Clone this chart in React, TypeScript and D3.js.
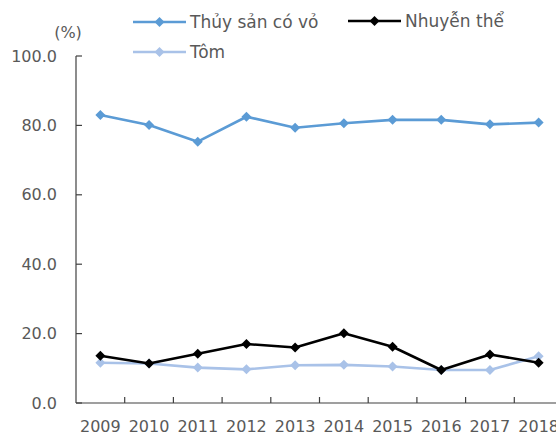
import React from "react";
import * as d3 from "d3";

const years = ["2009", "2010", "2011", "2012", "2013", "2014", "2015", "2016", "2017", "2018"];
const thuySan = [83.0, 80.1, 75.3, 82.5, 79.3, 80.6, 81.6, 81.6, 80.3, 80.8];
const nhuyenThe = [13.6, 11.4, 14.2, 17.0, 16.0, 20.1, 16.2, 9.5, 14.0, 11.6];
const tom = [11.6, 11.4, 10.2, 9.7, 10.9, 11.0, 10.5, 9.5, 9.5, 13.5];
const yTicks = [0, 20, 40, 60, 80, 100];

const series = [
  { name: "Thủy sản có vỏ", values: thuySan, color: "#5B9BD5" },
  { name: "Nhuyễn thể", values: nhuyenThe, color: "#000000" },
  { name: "Tôm", values: tom, color: "#A9C2E8" },
];
const drawOrder = [0, 2, 1];

const W = 556;
const H = 434;
const left = 76;
const right = 563;
const top = 56;
const bottom = 403;
const font = "'DejaVu Sans', Verdana, sans-serif";
const textColor = "#595959";

export default function App() {
  const x = d3.scaleBand<string>().domain(years).range([left, right]);
  const y = d3.scaleLinear().domain([0, 100]).range([bottom, top]);
  const line = d3
    .line<number>()
    .x((_, i) => (x(years[i]) as number) + x.bandwidth() / 2)
    .y((v) => y(v));
  const diamond = (cx: number, cy: number, r: number) =>
    `M${cx},${cy - r}L${cx + r},${cy}L${cx},${cy + r}L${cx - r},${cy}Z`;

  const legend = [
    { s: series[0], lx: 133, ly: 22 },
    { s: series[1], lx: 348, ly: 21 },
    { s: series[2], lx: 133, ly: 52 },
  ];

  return (
    <svg
      width={W}
      height={H}
      style={{ position: "fixed", left: 0, top: 0, background: "#fff" }}
      fontFamily={font}
    >
      <rect width={W} height={H} fill="#fff" />
      {/* y axis */}
      <line x1={left} x2={left} y1={top} y2={bottom} stroke="#404040" strokeWidth={1.2} />
      {yTicks.map((t) => (
        <g key={t}>
          <line x1={left} x2={left + 6} y1={y(t)} y2={y(t)} stroke="#404040" strokeWidth={1.2} />
          <text
            x={57}
            y={y(t)}
            textAnchor="end"
            dominantBaseline="central"
            fontSize={16}
            fill={textColor}
          >
            {t.toFixed(1)}
          </text>
        </g>
      ))}
      <text x={68} y={32} textAnchor="middle" dominantBaseline="central" fontSize={16} fill={textColor}>
        (%)
      </text>
      {/* x axis */}
      <line x1={left} x2={right} y1={bottom} y2={bottom} stroke="#404040" strokeWidth={1.2} />
      {years.map((yr, i) =>
        i > 0 ? (
          <line
            key={"t" + yr}
            x1={x(yr) as number}
            x2={x(yr) as number}
            y1={bottom}
            y2={bottom - 6}
            stroke="#404040"
            strokeWidth={1.2}
          />
        ) : null
      )}
      {years.map((yr) => (
        <text
          key={yr}
          x={(x(yr) as number) + x.bandwidth() / 2}
          y={426}
          textAnchor="middle"
          dominantBaseline="central"
          fontSize={16}
          fill={textColor}
        >
          {yr}
        </text>
      ))}
      {/* series */}
      {drawOrder.map((si) => {
        const s = series[si];
        return (
          <g key={s.name}>
            <path d={line(s.values) || ""} fill="none" stroke={s.color} strokeWidth={2.6} strokeLinejoin="round" />
            {s.values.map((v, i) => (
              <path
                key={i}
                d={diamond((x(years[i]) as number) + x.bandwidth() / 2, y(v), 5)}
                fill={s.color}
              />
            ))}
          </g>
        );
      })}
      {/* legend */}
      {legend.map(({ s, lx, ly }) => (
        <g key={"l" + s.name}>
          <line x1={lx} x2={lx + 53} y1={ly} y2={ly} stroke={s.color} strokeWidth={2.6} />
          <path d={diamond(lx + 26.5, ly, 5)} fill={s.color} />
          <text x={lx + 57} y={ly} dominantBaseline="central" fontSize={17} fill={textColor}>
            {s.name}
          </text>
        </g>
      ))}
    </svg>
  );
}
